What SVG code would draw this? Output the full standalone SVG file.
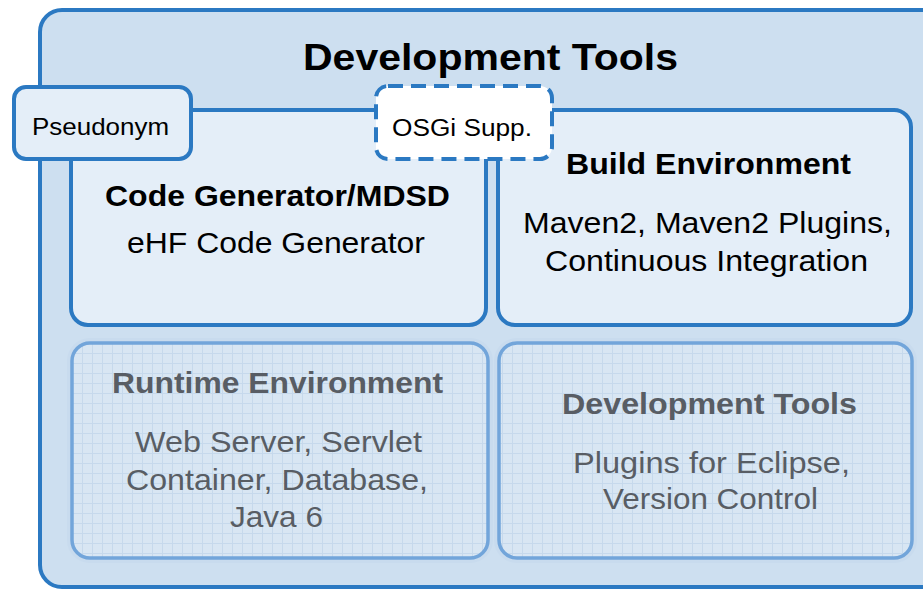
<svg xmlns="http://www.w3.org/2000/svg" width="923" height="589" viewBox="0 0 923 589">
<defs>
<pattern id="grid" width="10" height="10" patternUnits="userSpaceOnUse" x="2" y="3">
<rect width="10" height="10" fill="#d8e6f3"/>
<path d="M0 0.5H10M0.5 0V10" stroke="#c6d9ec" stroke-width="1" fill="none"/>
</pattern>
<style>
.t{font-family:"Liberation Sans",Arial,sans-serif;text-anchor:middle;fill:#000}
.b{font-weight:bold}
.box{fill:#e4eef8;stroke:#2b79c2;stroke-width:4}
.halo{fill:none;stroke:#c8dbee;stroke-width:10}
.faded{fill:url(#grid);stroke:#72a5da;stroke-width:3.5}
.g{fill:#585d64}
</style>
</defs>
<g id="outer">
<rect x="40" y="10" width="905" height="577" rx="22" fill="#cddff0" stroke="#2b79c2" stroke-width="4"/>
<text class="t b" x="490.5" y="70" font-size="36" textLength="375" lengthAdjust="spacingAndGlyphs">Development Tools</text>
</g>
<g id="code-generator">
<rect class="box" x="71" y="110" width="415" height="215" rx="17"/>
<text class="t b" x="277.5" y="206" font-size="30" textLength="345" lengthAdjust="spacingAndGlyphs">Code Generator/MDSD</text>
<text class="t" x="276" y="253" font-size="29" textLength="298" lengthAdjust="spacingAndGlyphs">eHF Code Generator</text>
</g>
<g id="build-environment">
<rect class="box" x="498" y="110" width="413" height="215" rx="17"/>
<text class="t b" x="708.5" y="174" font-size="30" textLength="285" lengthAdjust="spacingAndGlyphs">Build Environment</text>
<text class="t" x="707.5" y="233" font-size="29" textLength="369" lengthAdjust="spacingAndGlyphs">Maven2, Maven2 Plugins,</text>
<text class="t" x="706.5" y="271" font-size="29" textLength="323" lengthAdjust="spacingAndGlyphs">Continuous Integration</text>
</g>
<g id="runtime-environment">
<rect class="halo" x="72" y="343" width="416" height="215" rx="18"/>
<rect class="faded" x="72" y="343" width="416" height="215" rx="18"/>
<text class="t b g" x="277.5" y="393" font-size="30" textLength="331" lengthAdjust="spacingAndGlyphs">Runtime Environment</text>
<text class="t g" x="278.5" y="452" font-size="29" textLength="287" lengthAdjust="spacingAndGlyphs">Web Server, Servlet</text>
<text class="t g" x="277" y="490" font-size="29" textLength="302" lengthAdjust="spacingAndGlyphs">Container, Database,</text>
<text class="t g" x="276.5" y="527" font-size="29" textLength="93" lengthAdjust="spacingAndGlyphs">Java 6</text>
</g>
<g id="development-tools">
<rect class="halo" x="499" y="343" width="413" height="215" rx="18"/>
<rect class="faded" x="499" y="343" width="413" height="215" rx="18"/>
<text class="t b g" x="709.5" y="414" font-size="30" textLength="295" lengthAdjust="spacingAndGlyphs">Development Tools</text>
<text class="t g" x="711.5" y="473" font-size="29" textLength="277" lengthAdjust="spacingAndGlyphs">Plugins for Eclipse,</text>
<text class="t g" x="710.5" y="509" font-size="29" textLength="215" lengthAdjust="spacingAndGlyphs">Version Control</text>
</g>
<g id="pseudonym">
<rect class="box" x="14" y="87" width="177" height="72" rx="12"/>
<text class="t" x="100.5" y="135" font-size="24" textLength="137" lengthAdjust="spacingAndGlyphs">Pseudonym</text>
</g>
<g id="osgi-supp">
<rect x="376" y="86" width="176" height="73" rx="12" fill="#ffffff" stroke="#2b79c2" stroke-width="4" stroke-dasharray="15 8"/>
<text class="t" x="462" y="136" font-size="23" textLength="140" lengthAdjust="spacingAndGlyphs">OSGi Supp.</text>
</g>
<g id="connectors"/>
</svg>
